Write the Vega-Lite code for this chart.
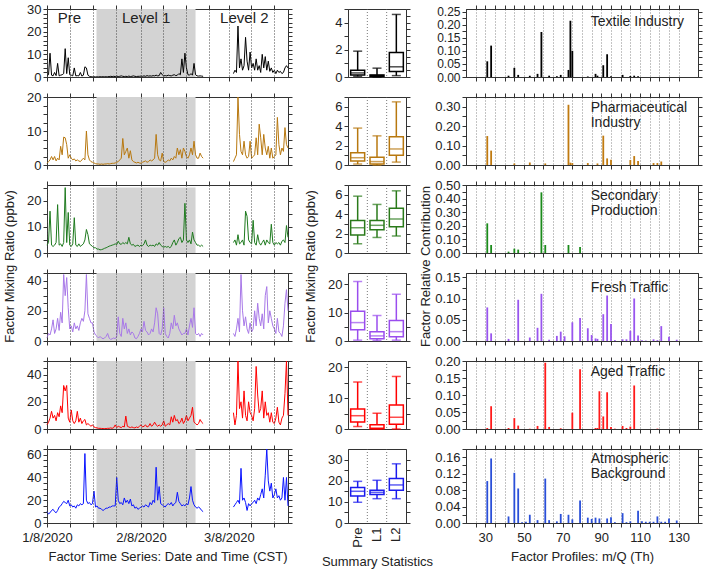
{
"$schema":"https://vega.github.io/schema/vega-lite/v6.json",
"padding":{"left":2,"top":2,"right":2,"bottom":2},
"columns":3,
"align":"each",
"bounds":"flush",
"spacing":{"row":20,"column":60},
"config":{
 "font":"Liberation Sans",
 "view":{"stroke":"#333","strokeWidth":1},
 "axis":{"labelFontSize":13,"labelColor":"#222","titleFontSize":13,"titleFontWeight":"normal","titleColor":"#222","domainColor":"#333","tickColor":"#333","tickSize":4,"grid":false,"labelPadding":2,"labelOverlap":false},
 "axisX":{"labelFlush":false},
 "line":{"strokeWidth":1},
 "text":{"fontSize":14,"color":"#222"}
},
"datasets":{
"lv":[{"t":"2020-01-24T08:00","t2":"2020-02-26T00:00"}],
"per":[{"t":"2020-01-15T10:00","lab":"Pre"},{"t":"2020-02-09T17:00","lab":"Level 1"},{"t":"2020-03-13T02:00","lab":"Level 2"}],
"ts":[
{"t":"2020-01-08T00:00","s":1,"tx":0.5,"ph":0.5,"sp":3,"ft":2,"at":3,"bg":10},
{"t":"2020-01-08T12:00","s":1,"tx":1,"ph":1,"sp":4,"ft":5,"at":5,"bg":8},
{"t":"2020-01-09T00:00","s":1,"tx":10.5,"ph":1.5,"sp":16,"ft":4,"at":8,"bg":9},
{"t":"2020-01-09T12:00","s":1,"tx":0.8,"ph":2.5,"sp":3,"ft":8,"at":13,"bg":11},
{"t":"2020-01-10T00:00","s":1,"tx":0.5,"ph":1.5,"sp":2.5,"ft":14,"at":8,"bg":12},
{"t":"2020-01-10T12:00","s":1,"tx":2,"ph":2.5,"sp":3,"ft":5,"at":10,"bg":10},
{"t":"2020-01-11T00:00","s":1,"tx":0.6,"ph":1.2,"sp":4,"ft":8,"at":6,"bg":9},
{"t":"2020-01-11T12:00","s":1,"tx":6,"ph":2,"sp":18.5,"ft":15,"at":12,"bg":11},
{"t":"2020-01-12T00:00","s":1,"tx":0.5,"ph":1.5,"sp":3,"ft":7,"at":9,"bg":14},
{"t":"2020-01-12T12:00","s":1,"tx":0.8,"ph":5.5,"sp":3.5,"ft":19,"at":17,"bg":15},
{"t":"2020-01-13T00:00","s":1,"tx":1,"ph":3,"sp":2.5,"ft":12,"at":12,"bg":17},
{"t":"2020-01-13T12:00","s":1,"tx":1.5,"ph":8.2,"sp":4,"ft":44,"at":32,"bg":19},
{"t":"2020-01-14T00:00","s":1,"tx":12.5,"ph":8,"sp":25,"ft":30,"at":28,"bg":18},
{"t":"2020-01-14T12:00","s":1,"tx":1.5,"ph":6,"sp":4,"ft":42,"at":32,"bg":17},
{"t":"2020-01-15T00:00","s":1,"tx":8.5,"ph":2,"sp":15.5,"ft":22,"at":8,"bg":20},
{"t":"2020-01-15T12:00","s":1,"tx":1,"ph":3,"sp":3,"ft":8,"at":5,"bg":15},
{"t":"2020-01-16T00:00","s":1,"tx":0.8,"ph":2,"sp":2.5,"ft":10,"at":14,"bg":16},
{"t":"2020-01-16T12:00","s":1,"tx":0.5,"ph":1.5,"sp":3.5,"ft":6,"at":6,"bg":14},
{"t":"2020-01-17T00:00","s":1,"tx":4,"ph":1.8,"sp":13.5,"ft":12,"at":4,"bg":15},
{"t":"2020-01-17T12:00","s":1,"tx":0.5,"ph":1.2,"sp":3,"ft":8,"at":6,"bg":13},
{"t":"2020-01-18T00:00","s":1,"tx":0.6,"ph":1.5,"sp":2.5,"ft":10,"at":13,"bg":16},
{"t":"2020-01-18T12:00","s":1,"tx":0.5,"ph":1.2,"sp":3.5,"ft":7,"at":5,"bg":15},
{"t":"2020-01-19T00:00","s":1,"tx":2,"ph":1,"sp":2.5,"ft":12,"at":8,"bg":17},
{"t":"2020-01-19T12:00","s":1,"tx":0.4,"ph":1.5,"sp":3,"ft":15,"at":4,"bg":16},
{"t":"2020-01-20T00:00","s":1,"tx":0.8,"ph":2,"sp":3.5,"ft":13,"at":6,"bg":17},
{"t":"2020-01-20T12:00","s":1,"tx":4.5,"ph":1.5,"sp":5,"ft":20,"at":7,"bg":61},
{"t":"2020-01-21T00:00","s":1,"tx":4,"ph":10,"sp":9,"ft":44,"at":3,"bg":20},
{"t":"2020-01-21T12:00","s":1,"tx":0.8,"ph":3,"sp":7,"ft":18,"at":4,"bg":17},
{"t":"2020-01-22T00:00","s":1,"tx":0.3,"ph":1.5,"sp":3.5,"ft":15,"at":3,"bg":18},
{"t":"2020-01-22T12:00","s":1,"tx":0.1,"ph":1,"sp":3,"ft":12,"at":2,"bg":16},
{"t":"2020-01-23T00:00","s":1,"tx":0.1,"ph":0.8,"sp":2.5,"ft":12,"at":3,"bg":17},
{"t":"2020-01-23T12:00","s":1,"tx":0.1,"ph":0.6,"sp":2,"ft":6,"at":1.5,"bg":28},
{"t":"2020-01-24T00:00","s":1,"tx":0.05,"ph":0.4,"sp":2,"ft":4,"at":1,"bg":14},
{"t":"2020-01-24T12:00","s":1,"tx":0.05,"ph":0.3,"sp":1.5,"ft":3,"at":0.8,"bg":15},
{"t":"2020-01-25T00:00","s":1,"tx":0.05,"ph":0.3,"sp":1.5,"ft":2,"at":0.5,"bg":13},
{"t":"2020-01-25T12:00","s":1,"tx":0.1,"ph":0.2,"sp":1.2,"ft":3,"at":0.5,"bg":13},
{"t":"2020-01-26T00:00","s":1,"tx":0.1,"ph":0.3,"sp":1.3,"ft":2,"at":0.4,"bg":12},
{"t":"2020-01-26T12:00","s":1,"tx":0.1,"ph":0.2,"sp":1.5,"ft":1.5,"at":0.3,"bg":11},
{"t":"2020-01-27T00:00","s":1,"tx":0.1,"ph":0.3,"sp":1.8,"ft":2,"at":0.3,"bg":12},
{"t":"2020-01-27T12:00","s":1,"tx":0.1,"ph":0.3,"sp":2,"ft":3,"at":0.3,"bg":13},
{"t":"2020-01-28T00:00","s":1,"tx":0.1,"ph":0.4,"sp":2.3,"ft":5,"at":0.5,"bg":13},
{"t":"2020-01-28T12:00","s":1,"tx":0.2,"ph":0.3,"sp":2.6,"ft":2,"at":0.5,"bg":14},
{"t":"2020-01-29T00:00","s":1,"tx":0.3,"ph":0.4,"sp":2.8,"ft":1,"at":0.8,"bg":14},
{"t":"2020-01-29T12:00","s":1,"tx":0.2,"ph":0.5,"sp":3,"ft":1.5,"at":0.5,"bg":15},
{"t":"2020-01-30T00:00","s":1,"tx":0.3,"ph":0.5,"sp":3.2,"ft":2,"at":1,"bg":15},
{"t":"2020-01-30T12:00","s":1,"tx":0.2,"ph":0.6,"sp":3.5,"ft":1.5,"at":3,"bg":15},
{"t":"2020-01-31T00:00","s":1,"tx":0.4,"ph":0.8,"sp":3.2,"ft":3,"at":1,"bg":40},
{"t":"2020-01-31T12:00","s":1,"tx":0.2,"ph":1,"sp":4.5,"ft":16,"at":2,"bg":20},
{"t":"2020-02-01T00:00","s":1,"tx":0.3,"ph":1.5,"sp":3.5,"ft":5,"at":1.5,"bg":17},
{"t":"2020-02-01T12:00","s":1,"tx":0.5,"ph":2,"sp":3.3,"ft":3,"at":1,"bg":18},
{"t":"2020-02-02T00:00","s":1,"tx":0.3,"ph":7.8,"sp":4,"ft":15,"at":2,"bg":16},
{"t":"2020-02-02T12:00","s":1,"tx":0.2,"ph":3,"sp":3.5,"ft":8,"at":1.5,"bg":22},
{"t":"2020-02-03T00:00","s":1,"tx":0.3,"ph":4,"sp":4,"ft":12,"at":9.5,"bg":18},
{"t":"2020-02-03T12:00","s":1,"tx":0.2,"ph":5,"sp":3.5,"ft":5,"at":2,"bg":20},
{"t":"2020-02-04T00:00","s":1,"tx":0.4,"ph":2,"sp":6,"ft":8,"at":1.5,"bg":17},
{"t":"2020-02-04T12:00","s":1,"tx":0.2,"ph":4.2,"sp":3.5,"ft":4,"at":1,"bg":21},
{"t":"2020-02-05T00:00","s":1,"tx":0.3,"ph":1.5,"sp":3,"ft":6,"at":1.5,"bg":15},
{"t":"2020-02-05T12:00","s":1,"tx":0.5,"ph":1,"sp":3.3,"ft":5,"at":1,"bg":16},
{"t":"2020-02-06T00:00","s":1,"tx":0.3,"ph":0.8,"sp":2.5,"ft":2,"at":0.8,"bg":13},
{"t":"2020-02-06T12:00","s":1,"tx":0.2,"ph":0.6,"sp":2.8,"ft":1.5,"at":1.5,"bg":14},
{"t":"2020-02-07T00:00","s":1,"tx":0.3,"ph":0.8,"sp":3,"ft":3,"at":1,"bg":12},
{"t":"2020-02-07T12:00","s":1,"tx":0.3,"ph":0.6,"sp":2.5,"ft":5,"at":2,"bg":13},
{"t":"2020-02-08T00:00","s":1,"tx":0.4,"ph":0.5,"sp":3,"ft":8,"at":3,"bg":14},
{"t":"2020-02-08T12:00","s":1,"tx":0.3,"ph":0.8,"sp":2.8,"ft":6,"at":1.5,"bg":15},
{"t":"2020-02-09T00:00","s":1,"tx":0.5,"ph":1,"sp":3.5,"ft":13,"at":2,"bg":14},
{"t":"2020-02-09T12:00","s":1,"tx":0.3,"ph":1.2,"sp":5,"ft":7,"at":3,"bg":16},
{"t":"2020-02-10T00:00","s":1,"tx":0.6,"ph":0.8,"sp":3,"ft":6,"at":1.5,"bg":15},
{"t":"2020-02-10T12:00","s":1,"tx":0.4,"ph":1,"sp":2.5,"ft":4,"at":2,"bg":14},
{"t":"2020-02-11T00:00","s":1,"tx":0.5,"ph":1.5,"sp":3,"ft":5,"at":4,"bg":18},
{"t":"2020-02-11T12:00","s":1,"tx":0.4,"ph":1.2,"sp":2.8,"ft":8,"at":2,"bg":16},
{"t":"2020-02-12T00:00","s":1,"tx":0.6,"ph":1.5,"sp":3,"ft":6,"at":3,"bg":20},
{"t":"2020-02-12T12:00","s":1,"tx":0.5,"ph":2,"sp":2.5,"ft":12,"at":5,"bg":18},
{"t":"2020-02-13T00:00","s":1,"tx":0.8,"ph":9,"sp":3.5,"ft":22,"at":3,"bg":49},
{"t":"2020-02-13T12:00","s":1,"tx":0.5,"ph":3,"sp":3,"ft":18,"at":2,"bg":20},
{"t":"2020-02-14T00:00","s":1,"tx":0.6,"ph":1.5,"sp":4,"ft":5,"at":3,"bg":32},
{"t":"2020-02-14T12:00","s":1,"tx":2,"ph":1.2,"sp":3,"ft":4,"at":2,"bg":17},
{"t":"2020-02-15T00:00","s":1,"tx":1,"ph":3.5,"sp":2.5,"ft":8,"at":3,"bg":16},
{"t":"2020-02-15T12:00","s":1,"tx":0.5,"ph":1,"sp":2.2,"ft":22,"at":6,"bg":15},
{"t":"2020-02-16T00:00","s":1,"tx":0.6,"ph":0.8,"sp":2.5,"ft":5,"at":2,"bg":14},
{"t":"2020-02-16T12:00","s":1,"tx":0.5,"ph":1,"sp":2.2,"ft":3,"at":3,"bg":16},
{"t":"2020-02-17T00:00","s":1,"tx":0.8,"ph":1.5,"sp":2.5,"ft":2,"at":4,"bg":17},
{"t":"2020-02-17T12:00","s":1,"tx":0.6,"ph":1.2,"sp":2,"ft":5,"at":3,"bg":16},
{"t":"2020-02-18T00:00","s":1,"tx":0.5,"ph":2,"sp":2.5,"ft":12,"at":9,"bg":18},
{"t":"2020-02-18T12:00","s":1,"tx":0.8,"ph":1.5,"sp":4,"ft":8,"at":5,"bg":15},
{"t":"2020-02-19T00:00","s":1,"tx":1,"ph":2.5,"sp":5,"ft":17,"at":10,"bg":17},
{"t":"2020-02-19T12:00","s":1,"tx":0.6,"ph":2,"sp":3,"ft":10,"at":6,"bg":18},
{"t":"2020-02-20T00:00","s":1,"tx":0.8,"ph":5,"sp":4,"ft":12,"at":7,"bg":27},
{"t":"2020-02-20T12:00","s":1,"tx":1.5,"ph":3,"sp":5.5,"ft":8,"at":4,"bg":19},
{"t":"2020-02-21T00:00","s":1,"tx":1,"ph":4.5,"sp":6,"ft":6,"at":5,"bg":17},
{"t":"2020-02-21T12:00","s":1,"tx":8,"ph":2,"sp":4,"ft":4,"at":8,"bg":15},
{"t":"2020-02-22T00:00","s":1,"tx":2,"ph":5,"sp":5,"ft":5,"at":4,"bg":16},
{"t":"2020-02-22T12:00","s":1,"tx":10.5,"ph":4,"sp":19,"ft":5,"at":6,"bg":15},
{"t":"2020-02-23T00:00","s":1,"tx":4,"ph":2.5,"sp":5,"ft":8,"at":10,"bg":17},
{"t":"2020-02-23T12:00","s":1,"tx":1,"ph":2,"sp":4,"ft":4,"at":6,"bg":16},
{"t":"2020-02-24T00:00","s":1,"tx":0.8,"ph":3,"sp":5,"ft":10,"at":8,"bg":22},
{"t":"2020-02-24T12:00","s":1,"tx":1.5,"ph":5,"sp":3.5,"ft":15,"at":10,"bg":32},
{"t":"2020-02-25T00:00","s":1,"tx":0.8,"ph":3,"sp":8,"ft":9,"at":16,"bg":20},
{"t":"2020-02-25T12:00","s":1,"tx":6,"ph":7,"sp":5,"ft":22,"at":5,"bg":16},
{"t":"2020-02-26T00:00","s":1,"tx":1,"ph":3,"sp":4,"ft":5,"at":4,"bg":14},
{"t":"2020-02-26T12:00","s":1,"tx":0.5,"ph":2,"sp":3,"ft":4,"at":3,"bg":13},
{"t":"2020-02-27T00:00","s":1,"tx":0.4,"ph":2,"sp":3,"ft":5,"at":4,"bg":14},
{"t":"2020-02-27T12:00","s":1,"tx":0.5,"ph":3.5,"sp":2.5,"ft":3,"at":7,"bg":13},
{"t":"2020-02-28T00:00","s":1,"tx":0.4,"ph":2.5,"sp":3,"ft":5,"at":5,"bg":11},
{"t":"2020-02-28T12:00","s":1,"tx":0.3,"ph":2,"sp":2.5,"ft":4,"at":4,"bg":10},
{"t":"2020-03-09T12:00","s":2,"tx":1.5,"ph":1,"sp":4,"ft":5,"at":12,"bg":14},
{"t":"2020-03-10T00:00","s":2,"tx":3,"ph":2,"sp":5,"ft":3,"at":3,"bg":16},
{"t":"2020-03-10T12:00","s":2,"tx":2,"ph":3,"sp":3,"ft":8,"at":10,"bg":18},
{"t":"2020-03-11T00:00","s":2,"tx":22.5,"ph":20,"sp":7,"ft":15,"at":50,"bg":20},
{"t":"2020-03-11T12:00","s":2,"tx":4,"ph":9,"sp":3.5,"ft":6,"at":15,"bg":17},
{"t":"2020-03-12T00:00","s":2,"tx":8,"ph":4,"sp":4,"ft":44,"at":20,"bg":48},
{"t":"2020-03-12T12:00","s":2,"tx":3,"ph":3,"sp":5,"ft":20,"at":8,"bg":20},
{"t":"2020-03-13T00:00","s":2,"tx":5,"ph":7,"sp":3,"ft":10,"at":28,"bg":22},
{"t":"2020-03-13T12:00","s":2,"tx":17.5,"ph":3,"sp":16,"ft":16,"at":10,"bg":18},
{"t":"2020-03-14T00:00","s":2,"tx":7,"ph":2,"sp":14,"ft":8,"at":6,"bg":11},
{"t":"2020-03-14T12:00","s":2,"tx":3,"ph":2.5,"sp":5,"ft":5,"at":20,"bg":17},
{"t":"2020-03-15T00:00","s":2,"tx":11,"ph":7,"sp":4,"ft":12,"at":12,"bg":15},
{"t":"2020-03-15T12:00","s":2,"tx":4,"ph":2,"sp":3.5,"ft":6,"at":10,"bg":17},
{"t":"2020-03-16T00:00","s":2,"tx":6,"ph":2.5,"sp":12.5,"ft":8,"at":6,"bg":18},
{"t":"2020-03-16T12:00","s":2,"tx":3,"ph":3,"sp":4,"ft":20,"at":15,"bg":20},
{"t":"2020-03-17T00:00","s":2,"tx":8,"ph":8,"sp":3,"ft":10,"at":46,"bg":17},
{"t":"2020-03-17T12:00","s":2,"tx":3,"ph":3,"sp":7,"ft":25,"at":25,"bg":22},
{"t":"2020-03-18T00:00","s":2,"tx":5,"ph":12,"sp":4,"ft":15,"at":12,"bg":20},
{"t":"2020-03-18T12:00","s":2,"tx":2,"ph":8,"sp":3,"ft":10,"at":15,"bg":25},
{"t":"2020-03-19T00:00","s":2,"tx":10,"ph":3,"sp":4,"ft":18,"at":28,"bg":30},
{"t":"2020-03-19T12:00","s":2,"tx":4,"ph":9,"sp":5,"ft":8,"at":8,"bg":22},
{"t":"2020-03-20T00:00","s":2,"tx":9,"ph":5,"sp":3,"ft":30,"at":20,"bg":42},
{"t":"2020-03-20T12:00","s":2,"tx":3,"ph":3,"sp":5,"ft":36,"at":10,"bg":65},
{"t":"2020-03-21T00:00","s":2,"tx":7,"ph":5.5,"sp":4,"ft":12,"at":12,"bg":37},
{"t":"2020-03-21T12:00","s":2,"tx":2.5,"ph":2,"sp":3.5,"ft":20,"at":5,"bg":28},
{"t":"2020-03-22T00:00","s":2,"tx":4,"ph":5,"sp":11,"ft":15,"at":12,"bg":35},
{"t":"2020-03-22T12:00","s":2,"tx":2,"ph":2,"sp":4,"ft":10,"at":5,"bg":22},
{"t":"2020-03-23T00:00","s":2,"tx":3,"ph":2.5,"sp":3,"ft":8,"at":4,"bg":25},
{"t":"2020-03-23T12:00","s":2,"tx":1.5,"ph":3,"sp":4,"ft":5,"at":8,"bg":30},
{"t":"2020-03-24T00:00","s":2,"tx":3,"ph":14,"sp":3.5,"ft":15,"at":16,"bg":22},
{"t":"2020-03-24T12:00","s":2,"tx":2,"ph":6,"sp":4,"ft":6,"at":5,"bg":24},
{"t":"2020-03-25T00:00","s":2,"tx":2.5,"ph":3,"sp":3,"ft":5,"at":3,"bg":20},
{"t":"2020-03-25T12:00","s":2,"tx":1.5,"ph":5,"sp":4.5,"ft":3,"at":8,"bg":22},
{"t":"2020-03-26T00:00","s":2,"tx":2,"ph":4,"sp":5,"ft":10,"at":10,"bg":40},
{"t":"2020-03-26T12:00","s":2,"tx":4,"ph":11,"sp":4,"ft":25,"at":26,"bg":20},
{"t":"2020-03-27T00:00","s":2,"tx":5,"ph":6,"sp":10.5,"ft":34,"at":50,"bg":40},
{"t":"2020-03-27T12:00","s":2,"tx":4,"ph":5,"sp":6,"ft":20,"at":10,"bg":15}
],
"box":[
{"f":"tx","g":"Pre","lo":0.05,"q1":0.15,"md":0.3,"q3":0.5,"hi":1.9},
{"f":"tx","g":"L1","lo":0,"q1":0.05,"md":0.1,"q3":0.15,"hi":0.65},
{"f":"tx","g":"L2","lo":0.1,"q1":0.4,"md":0.75,"q3":1.8,"hi":4.6},
{"f":"ph","g":"Pre","lo":0.1,"q1":0.4,"md":0.75,"q3":1.25,"hi":3.8},
{"f":"ph","g":"L1","lo":0,"q1":0.1,"md":0.35,"q3":0.8,"hi":3.0},
{"f":"ph","g":"L2","lo":0.3,"q1":1.0,"md":1.65,"q3":2.9,"hi":6.5},
{"f":"sp","g":"Pre","lo":0.95,"q1":1.85,"md":2.6,"q3":3.35,"hi":5.85},
{"f":"sp","g":"L1","lo":1.6,"q1":2.4,"md":2.85,"q3":3.35,"hi":5.0},
{"f":"sp","g":"L2","lo":1.75,"q1":2.7,"md":3.5,"q3":4.6,"hi":6.4},
{"f":"ft","g":"Pre","lo":0.3,"q1":4,"md":6.5,"q3":10.5,"hi":21},
{"f":"ft","g":"L1","lo":0.2,"q1":0.8,"md":1.8,"q3":3.3,"hi":9},
{"f":"ft","g":"L2","lo":0.3,"q1":1.5,"md":3.3,"q3":7.2,"hi":16.5},
{"f":"at","g":"Pre","lo":0.8,"q1":2.3,"md":4.3,"q3":6.5,"hi":15.2},
{"f":"at","g":"L1","lo":0,"q1":0.1,"md":0.3,"q3":1.4,"hi":5.1},
{"f":"at","g":"L2","lo":0,"q1":1.5,"md":3.8,"q3":7.8,"hi":17},
{"f":"bg","g":"Pre","lo":9.8,"q1":12.8,"md":15,"q3":16.8,"hi":19.7},
{"f":"bg","g":"L1","lo":11.5,"q1":13.5,"md":14.5,"q3":15.5,"hi":20.2},
{"f":"bg","g":"L2","lo":11.5,"q1":15.5,"md":18,"q3":21,"hi":28}
],
"prof":[
{"f":"tx","mz":31,"v":0.06},{"f":"tx","mz":33,"v":0.12},{"f":"tx","mz":42,"v":0.005},{"f":"tx","mz":45,"v":0.035},{"f":"tx","mz":47,"v":0.008},{"f":"tx","mz":53,"v":0.005},{"f":"tx","mz":57,"v":0.012},{"f":"tx","mz":59,"v":0.172},{"f":"tx","mz":63,"v":0.005},{"f":"tx","mz":67,"v":0.003},{"f":"tx","mz":69,"v":0.008},{"f":"tx","mz":73,"v":0.027},{"f":"tx","mz":74,"v":0.215},{"f":"tx","mz":75,"v":0.10},{"f":"tx","mz":83,"v":0.002},{"f":"tx","mz":87,"v":0.012},{"f":"tx","mz":88,"v":0.005},{"f":"tx","mz":91,"v":0.045},{"f":"tx","mz":93,"v":0.087},{"f":"tx","mz":95,"v":0.003},{"f":"tx","mz":101,"v":0.008},{"f":"tx","mz":105,"v":0.004},{"f":"tx","mz":107,"v":0.005},{"f":"tx","mz":109,"v":0.003},
{"f":"ph","mz":31,"v":0.149},{"f":"ph","mz":33,"v":0.074},{"f":"ph","mz":45,"v":0.008},{"f":"ph","mz":53,"v":0.013},{"f":"ph","mz":61,"v":0.008},{"f":"ph","mz":73,"v":0.31},{"f":"ph","mz":74,"v":0.012},{"f":"ph","mz":75,"v":0.01},{"f":"ph","mz":83,"v":0.01},{"f":"ph","mz":88,"v":0.008},{"f":"ph","mz":91,"v":0.151},{"f":"ph","mz":93,"v":0.034},{"f":"ph","mz":95,"v":0.027},{"f":"ph","mz":105,"v":0.026},{"f":"ph","mz":107,"v":0.046},{"f":"ph","mz":109,"v":0.02},{"f":"ph","mz":117,"v":0.01},{"f":"ph","mz":119,"v":0.01},{"f":"ph","mz":121,"v":0.018},
{"f":"sp","mz":31,"v":0.218},{"f":"sp","mz":33,"v":0.059},{"f":"sp","mz":42,"v":0.01},{"f":"sp","mz":45,"v":0.032},{"f":"sp","mz":47,"v":0.025},{"f":"sp","mz":53,"v":0.005},{"f":"sp","mz":59,"v":0.446},{"f":"sp","mz":61,"v":0.059},{"f":"sp","mz":73,"v":0.059},{"f":"sp","mz":79,"v":0.044},
{"f":"ft","mz":31,"v":0.079},{"f":"ft","mz":33,"v":0.018},{"f":"ft","mz":42,"v":0.005},{"f":"ft","mz":47,"v":0.097},{"f":"ft","mz":53,"v":0.008},{"f":"ft","mz":57,"v":0.031},{"f":"ft","mz":59,"v":0.111},{"f":"ft","mz":63,"v":0.003},{"f":"ft","mz":67,"v":0.012},{"f":"ft","mz":69,"v":0.022},{"f":"ft","mz":71,"v":0.011},{"f":"ft","mz":75,"v":0.044},{"f":"ft","mz":79,"v":0.054},{"f":"ft","mz":83,"v":0.03},{"f":"ft","mz":85,"v":0.014},{"f":"ft","mz":87,"v":0.006},{"f":"ft","mz":88,"v":0.005},{"f":"ft","mz":91,"v":0.063},{"f":"ft","mz":93,"v":0.107},{"f":"ft","mz":95,"v":0.04},{"f":"ft","mz":97,"v":0.002},{"f":"ft","mz":101,"v":0.004},{"f":"ft","mz":103,"v":0.004},{"f":"ft","mz":105,"v":0.024},{"f":"ft","mz":107,"v":0.10},{"f":"ft","mz":109,"v":0.013},{"f":"ft","mz":111,"v":0.002},{"f":"ft","mz":113,"v":0.001},{"f":"ft","mz":117,"v":0.004},{"f":"ft","mz":119,"v":0.002},{"f":"ft","mz":121,"v":0.035},{"f":"ft","mz":125,"v":0.01},{"f":"ft","mz":129,"v":0.003},
{"f":"at","mz":31,"v":0.003},{"f":"at","mz":33,"v":0.067},{"f":"at","mz":42,"v":0.003},{"f":"at","mz":45,"v":0.032},{"f":"at","mz":47,"v":0.01},{"f":"at","mz":53,"v":0.001},{"f":"at","mz":57,"v":0.009},{"f":"at","mz":61,"v":0.195},{"f":"at","mz":63,"v":0.006},{"f":"at","mz":69,"v":0.002},{"f":"at","mz":75,"v":0.048},{"f":"at","mz":79,"v":0.176},{"f":"at","mz":87,"v":0.003},{"f":"at","mz":88,"v":0.003},{"f":"at","mz":89,"v":0.111},{"f":"at","mz":91,"v":0.037},{"f":"at","mz":93,"v":0.108},{"f":"at","mz":95,"v":0.006},{"f":"at","mz":97,"v":0.001},{"f":"at","mz":101,"v":0.009},{"f":"at","mz":103,"v":0.003},{"f":"at","mz":105,"v":0.007},{"f":"at","mz":107,"v":0.128},{"f":"at","mz":119,"v":0.001},
{"f":"bg","mz":31,"v":0.102},{"f":"bg","mz":33,"v":0.157},{"f":"bg","mz":42,"v":0.016},{"f":"bg","mz":45,"v":0.122},{"f":"bg","mz":47,"v":0.084},{"f":"bg","mz":49,"v":0.002},{"f":"bg","mz":51,"v":0.003},{"f":"bg","mz":53,"v":0.02},{"f":"bg","mz":57,"v":0.007},{"f":"bg","mz":61,"v":0.108},{"f":"bg","mz":63,"v":0.007},{"f":"bg","mz":67,"v":0.004},{"f":"bg","mz":69,"v":0.022},{"f":"bg","mz":73,"v":0.02},{"f":"bg","mz":75,"v":0.009},{"f":"bg","mz":79,"v":0.055},{"f":"bg","mz":83,"v":0.013},{"f":"bg","mz":85,"v":0.01},{"f":"bg","mz":87,"v":0.013},{"f":"bg","mz":89,"v":0.011},{"f":"bg","mz":93,"v":0.011},{"f":"bg","mz":95,"v":0.014},{"f":"bg","mz":97,"v":0.002},{"f":"bg","mz":101,"v":0.024},{"f":"bg","mz":103,"v":0.002},{"f":"bg","mz":105,"v":0.004},{"f":"bg","mz":109,"v":0.03},{"f":"bg","mz":111,"v":0.004},{"f":"bg","mz":113,"v":0.003},{"f":"bg","mz":115,"v":0.003},{"f":"bg","mz":117,"v":0.003},{"f":"bg","mz":119,"v":0.016},{"f":"bg","mz":121,"v":0.003},{"f":"bg","mz":123,"v":0.003},{"f":"bg","mz":125,"v":0.011},{"f":"bg","mz":129,"v":0.006}
]
},
"concat":[
{"width":241,"height":68,"data":{"name":"ts"},"resolve":{"axis":{"x":"independent","y":"independent"}},
 "layer":[
  {"data":{"name":"lv"},"mark":{"type":"rect","color":"#d3d3d3"},"encoding":{
   "x":{"field":"t","type":"temporal","scale":{"domain":[{"year":2020,"month":1,"date":8},{"year":2020,"month":3,"date":27,"hours":12}]},"axis":{"orient":"top","title":null,"labels":false,"values":[{"year":2020,"month":1,"date":8},{"year":2020,"month":1,"date":15,"hours":12},{"year":2020,"month":1,"date":23,"hours":3},{"year":2020,"month":1,"date":30,"hours":15},{"year":2020,"month":2,"date":8},{"year":2020,"month":2,"date":15,"hours":10},{"year":2020,"month":2,"date":22,"hours":20},{"year":2020,"month":3,"date":1,"hours":12},{"year":2020,"month":3,"date":8},{"year":2020,"month":3,"date":15,"hours":10},{"year":2020,"month":3,"date":22,"hours":20}]}},
   "x2":{"field":"t2"},
   "y":{"datum":0,"type":"quantitative","axis":{"orient":"right","title":null,"labels":false,"values":[0,2,4,6,8,10,12,14,16,18,20,22,24,26,28,30]}},"y2":{"datum":30}}},
  {"mark":{"type":"line","color":"#000000"},"encoding":{
   "x":{"field":"t","type":"temporal","axis":{"title":null,"labels":false,"grid":true,"gridDash":[1,2],"gridColor":"#444","zindex":1,"values":[{"year":2020,"month":1,"date":8},{"year":2020,"month":1,"date":15,"hours":12},{"year":2020,"month":1,"date":23,"hours":3},{"year":2020,"month":1,"date":30,"hours":15},{"year":2020,"month":2,"date":8},{"year":2020,"month":2,"date":15,"hours":10},{"year":2020,"month":2,"date":22,"hours":20},{"year":2020,"month":3,"date":1,"hours":12},{"year":2020,"month":3,"date":8},{"year":2020,"month":3,"date":15,"hours":10},{"year":2020,"month":3,"date":22,"hours":20}]}},
   "y":{"field":"tx","type":"quantitative","scale":{"domain":[0,30]},"axis":{"title":null,"labelExpr":"datum.value % 10 == 0 ? datum.label : ''","values":[0,2,4,6,8,10,12,14,16,18,20,22,24,26,28,30]}},"detail":{"field":"s","type":"nominal"}}},
  {"data":{"name":"per"},"mark":{"type":"text","fontSize":15},"encoding":{"x":{"field":"t","type":"temporal","axis":null},"y":{"datum":26,"type":"quantitative","axis":null},"text":{"field":"lab","type":"nominal"}}}
 ]},
{"width":58,"height":68,"data":{"name":"box"},"transform":[{"filter":"datum.f=='tx'"}],"resolve":{"axis":{"y":"independent"}},
 "encoding":{"x":{"field":"g","type":"nominal","sort":["Pre","L1","L2"],"scale":{"paddingInner":0,"paddingOuter":0},"axis":{"title":null,"labels":false,"ticks":false}}},
 "layer":[
  {"transform":[{"filter":"datum.g!='Pre'"}],"mark":{"type":"rule","strokeDash":[1,2],"color":"#555","strokeWidth":0.8},"encoding":{"x":{"field":"g","type":"nominal","sort":["Pre","L1","L2"],"bandPosition":0}}},
  {"mark":{"type":"rule","color":"#000000","strokeWidth":1.5},"encoding":{"y":{"field":"lo","type":"quantitative","scale":{"domain":[0,5]},"axis":{"title":null,"format":"d","labelExpr":"datum.value % 2 == 0 ? datum.label : ''","values":[0,0.5,1,1.5,2,2.5,3,3.5,4,4.5,5]}},"y2":{"field":"hi"}}},
  {"mark":{"type":"bar","fill":"white","stroke":"#000000","strokeWidth":1.5,"size":14},"encoding":{"y":{"field":"q1","type":"quantitative","axis":{"orient":"right","title":null,"labels":false,"values":[0,0.5,1,1.5,2,2.5,3,3.5,4,4.5,5]}},"y2":{"field":"q3"}}},
  {"mark":{"type":"tick","color":"#000000","size":14,"thickness":1.5},"encoding":{"y":{"field":"md","type":"quantitative","axis":null}}},
  {"mark":{"type":"tick","color":"#000000","size":9,"thickness":1.5},"encoding":{"y":{"field":"lo","type":"quantitative","axis":null}}},
  {"mark":{"type":"tick","color":"#000000","size":9,"thickness":1.5},"encoding":{"y":{"field":"hi","type":"quantitative","axis":null}}}
 ]},
{"width":232,"height":68,"resolve":{"axis":{"x":"independent","y":"independent"}},
 "layer":[
  {"data":{"name":"prof"},"transform":[{"filter":"datum.f=='tx'"}],"mark":{"type":"bar","orient":"vertical","color":"#000000","size":1.8},
   "encoding":{"x":{"field":"mz","type":"quantitative","scale":{"domain":[25,130]},"axis":{"title":null,"labels":false,"grid":true,"gridDash":[1,2],"gridColor":"#888","values":[25,30,35,40,45,50,55,60,65,70,75,80,85,90,95,100,105,110,115,120,125,130]}},
    "y":{"field":"v","type":"quantitative","scale":{"domain":[0,0.25]},"axis":{"title":null,"format":".2f","labelFontSize":12,"labelExpr":"round(datum.value*1000) % 50 == 0 ? datum.label : ''","values":[0,0.025,0.05,0.075,0.1,0.125,0.15,0.175,0.2,0.225,0.25]}}}},
  {"data":{"values":[{"lab":"Textile Industry"}]},"mark":{"type":"text","align":"left","baseline":"top","lineBreak":"\n","lineHeight":15},"encoding":{
   "x":{"datum":84.5,"type":"quantitative","axis":{"orient":"top","title":null,"labels":false,"values":[25,30,35,40,45,50,55,60,65,70,75,80,85,90,95,100,105,110,115,120,125,130]}},
   "y":{"datum":0.236,"type":"quantitative","axis":{"orient":"right","title":null,"labels":false,"values":[0,0.025,0.05,0.075,0.1,0.125,0.15,0.175,0.2,0.225,0.25]}},"text":{"field":"lab","type":"nominal"}}}
 ]},

{"width":241,"height":68,"data":{"name":"ts"},"resolve":{"axis":{"x":"independent","y":"independent"}},
 "layer":[
  {"data":{"name":"lv"},"mark":{"type":"rect","color":"#d3d3d3"},"encoding":{
   "x":{"field":"t","type":"temporal","scale":{"domain":[{"year":2020,"month":1,"date":8},{"year":2020,"month":3,"date":27,"hours":12}]},"axis":{"orient":"top","title":null,"labels":false,"values":[{"year":2020,"month":1,"date":8},{"year":2020,"month":1,"date":15,"hours":12},{"year":2020,"month":1,"date":23,"hours":3},{"year":2020,"month":1,"date":30,"hours":15},{"year":2020,"month":2,"date":8},{"year":2020,"month":2,"date":15,"hours":10},{"year":2020,"month":2,"date":22,"hours":20},{"year":2020,"month":3,"date":1,"hours":12},{"year":2020,"month":3,"date":8},{"year":2020,"month":3,"date":15,"hours":10},{"year":2020,"month":3,"date":22,"hours":20}]}},
   "x2":{"field":"t2"},
   "y":{"datum":0,"type":"quantitative","axis":{"orient":"right","title":null,"labels":false,"values":[0,2.5,5,7.5,10,12.5,15,17.5,20]}},"y2":{"datum":20}}},
  {"mark":{"type":"line","color":"#b8780f"},"encoding":{
   "x":{"field":"t","type":"temporal","axis":{"title":null,"labels":false,"grid":true,"gridDash":[1,2],"gridColor":"#444","zindex":1,"values":[{"year":2020,"month":1,"date":8},{"year":2020,"month":1,"date":15,"hours":12},{"year":2020,"month":1,"date":23,"hours":3},{"year":2020,"month":1,"date":30,"hours":15},{"year":2020,"month":2,"date":8},{"year":2020,"month":2,"date":15,"hours":10},{"year":2020,"month":2,"date":22,"hours":20},{"year":2020,"month":3,"date":1,"hours":12},{"year":2020,"month":3,"date":8},{"year":2020,"month":3,"date":15,"hours":10},{"year":2020,"month":3,"date":22,"hours":20}]}},
   "y":{"field":"ph","type":"quantitative","scale":{"domain":[0,20]},"axis":{"title":null,"format":"d","labelExpr":"datum.value % 10 == 0 ? datum.label : ''","values":[0,2.5,5,7.5,10,12.5,15,17.5,20]}},"detail":{"field":"s","type":"nominal"}}}
 ]},
{"width":58,"height":68,"data":{"name":"box"},"transform":[{"filter":"datum.f=='ph'"}],"resolve":{"axis":{"y":"independent"}},
 "encoding":{"x":{"field":"g","type":"nominal","sort":["Pre","L1","L2"],"scale":{"paddingInner":0,"paddingOuter":0},"axis":{"title":null,"labels":false,"ticks":false}}},
 "layer":[
  {"transform":[{"filter":"datum.g!='Pre'"}],"mark":{"type":"rule","strokeDash":[1,2],"color":"#555","strokeWidth":0.8},"encoding":{"x":{"field":"g","type":"nominal","sort":["Pre","L1","L2"],"bandPosition":0}}},
  {"mark":{"type":"rule","color":"#b8780f","strokeWidth":1.5},"encoding":{"y":{"field":"lo","type":"quantitative","scale":{"domain":[0,7]},"axis":{"title":null,"labelExpr":"datum.value % 2 == 0 ? datum.label : ''","values":[0,1,2,3,4,5,6,7]}},"y2":{"field":"hi"}}},
  {"mark":{"type":"bar","fill":"white","stroke":"#b8780f","strokeWidth":1.5,"size":14},"encoding":{"y":{"field":"q1","type":"quantitative","axis":{"orient":"right","title":null,"labels":false,"values":[0,1,2,3,4,5,6,7]}},"y2":{"field":"q3"}}},
  {"mark":{"type":"tick","color":"#b8780f","size":14,"thickness":1.5},"encoding":{"y":{"field":"md","type":"quantitative","axis":null}}},
  {"mark":{"type":"tick","color":"#b8780f","size":9,"thickness":1.5},"encoding":{"y":{"field":"lo","type":"quantitative","axis":null}}},
  {"mark":{"type":"tick","color":"#b8780f","size":9,"thickness":1.5},"encoding":{"y":{"field":"hi","type":"quantitative","axis":null}}}
 ]},
{"width":232,"height":68,"resolve":{"axis":{"x":"independent","y":"independent"}},
 "layer":[
  {"data":{"name":"prof"},"transform":[{"filter":"datum.f=='ph'"}],"mark":{"type":"bar","orient":"vertical","color":"#c07a10","size":1.8},
   "encoding":{"x":{"field":"mz","type":"quantitative","scale":{"domain":[25,130]},"axis":{"title":null,"labels":false,"grid":true,"gridDash":[1,2],"gridColor":"#888","values":[25,30,35,40,45,50,55,60,65,70,75,80,85,90,95,100,105,110,115,120,125,130]}},
    "y":{"field":"v","type":"quantitative","scale":{"domain":[0,0.35]},"axis":{"title":null,"format":".2f","labelExpr":"round(datum.value*1000) % 100 == 0 ? datum.label : ''","values":[0,0.05,0.1,0.15,0.2,0.25,0.3,0.35]}}}},
  {"data":{"values":[{"lab":"Pharmaceutical\nIndustry"}]},"mark":{"type":"text","align":"left","baseline":"top","lineBreak":"\n","lineHeight":15},"encoding":{
   "x":{"datum":84.5,"type":"quantitative","axis":{"orient":"top","title":null,"labels":false,"values":[25,30,35,40,45,50,55,60,65,70,75,80,85,90,95,100,105,110,115,120,125,130]}},
   "y":{"datum":0.33,"type":"quantitative","axis":{"orient":"right","title":null,"labels":false,"values":[0,0.05,0.1,0.15,0.2,0.25,0.3,0.35]}},"text":{"field":"lab","type":"nominal"}}}
 ]},

{"width":241,"height":68,"data":{"name":"ts"},"resolve":{"axis":{"x":"independent","y":"independent"}},
 "layer":[
  {"data":{"name":"lv"},"mark":{"type":"rect","color":"#d3d3d3"},"encoding":{
   "x":{"field":"t","type":"temporal","scale":{"domain":[{"year":2020,"month":1,"date":8},{"year":2020,"month":3,"date":27,"hours":12}]},"axis":{"orient":"top","title":null,"labels":false,"values":[{"year":2020,"month":1,"date":8},{"year":2020,"month":1,"date":15,"hours":12},{"year":2020,"month":1,"date":23,"hours":3},{"year":2020,"month":1,"date":30,"hours":15},{"year":2020,"month":2,"date":8},{"year":2020,"month":2,"date":15,"hours":10},{"year":2020,"month":2,"date":22,"hours":20},{"year":2020,"month":3,"date":1,"hours":12},{"year":2020,"month":3,"date":8},{"year":2020,"month":3,"date":15,"hours":10},{"year":2020,"month":3,"date":22,"hours":20}]}},
   "x2":{"field":"t2"},
   "y":{"datum":0,"type":"quantitative","axis":{"orient":"right","title":null,"labels":false,"values":[0,5,10,15,20,25]}},"y2":{"datum":25}}},
  {"mark":{"type":"line","color":"#1e7a1e"},"encoding":{
   "x":{"field":"t","type":"temporal","axis":{"title":null,"labels":false,"grid":true,"gridDash":[1,2],"gridColor":"#444","zindex":1,"values":[{"year":2020,"month":1,"date":8},{"year":2020,"month":1,"date":15,"hours":12},{"year":2020,"month":1,"date":23,"hours":3},{"year":2020,"month":1,"date":30,"hours":15},{"year":2020,"month":2,"date":8},{"year":2020,"month":2,"date":15,"hours":10},{"year":2020,"month":2,"date":22,"hours":20},{"year":2020,"month":3,"date":1,"hours":12},{"year":2020,"month":3,"date":8},{"year":2020,"month":3,"date":15,"hours":10},{"year":2020,"month":3,"date":22,"hours":20}]}},
   "y":{"field":"sp","type":"quantitative","scale":{"domain":[0,25]},"axis":{"title":"Factor Mixing Ratio (ppbv)","titleX":-38,"titleY":81,"titleAngle":270,"titleAlign":"center","titleBaseline":"middle","labelExpr":"datum.value % 10 == 0 ? datum.label : ''","values":[0,5,10,15,20,25]}},"detail":{"field":"s","type":"nominal"}}}
 ]},
{"width":58,"height":68,"data":{"name":"box"},"transform":[{"filter":"datum.f=='sp'"}],"resolve":{"axis":{"y":"independent"}},
 "encoding":{"x":{"field":"g","type":"nominal","sort":["Pre","L1","L2"],"scale":{"paddingInner":0,"paddingOuter":0},"axis":{"title":null,"labels":false,"ticks":false}}},
 "layer":[
  {"transform":[{"filter":"datum.g!='Pre'"}],"mark":{"type":"rule","strokeDash":[1,2],"color":"#555","strokeWidth":0.8},"encoding":{"x":{"field":"g","type":"nominal","sort":["Pre","L1","L2"],"bandPosition":0}}},
  {"mark":{"type":"rule","color":"#2a7a1a","strokeWidth":1.5},"encoding":{"y":{"field":"lo","type":"quantitative","scale":{"domain":[0,7]},"axis":{"title":"Factor Mixing Ratio (ppbv)","titleX":-38,"titleY":81,"titleAngle":270,"titleAlign":"center","titleBaseline":"middle","labelExpr":"datum.value % 2 == 0 ? datum.label : ''","values":[0,1,2,3,4,5,6,7]}},"y2":{"field":"hi"}}},
  {"mark":{"type":"bar","fill":"white","stroke":"#2a7a1a","strokeWidth":1.5,"size":14},"encoding":{"y":{"field":"q1","type":"quantitative","axis":{"orient":"right","title":null,"labels":false,"values":[0,1,2,3,4,5,6,7]}},"y2":{"field":"q3"}}},
  {"mark":{"type":"tick","color":"#2a7a1a","size":14,"thickness":1.5},"encoding":{"y":{"field":"md","type":"quantitative","axis":null}}},
  {"mark":{"type":"tick","color":"#2a7a1a","size":9,"thickness":1.5},"encoding":{"y":{"field":"lo","type":"quantitative","axis":null}}},
  {"mark":{"type":"tick","color":"#2a7a1a","size":9,"thickness":1.5},"encoding":{"y":{"field":"hi","type":"quantitative","axis":null}}}
 ]},
{"width":232,"height":68,"resolve":{"axis":{"x":"independent","y":"independent"}},
 "layer":[
  {"data":{"name":"prof"},"transform":[{"filter":"datum.f=='sp'"}],"mark":{"type":"bar","orient":"vertical","color":"#1a8a1a","size":1.8},
   "encoding":{"x":{"field":"mz","type":"quantitative","scale":{"domain":[25,130]},"axis":{"title":null,"labels":false,"grid":true,"gridDash":[1,2],"gridColor":"#888","values":[25,30,35,40,45,50,55,60,65,70,75,80,85,90,95,100,105,110,115,120,125,130]}},
    "y":{"field":"v","type":"quantitative","scale":{"domain":[0,0.5]},"axis":{"title":"Factor Relative Contribution","titleX":-41,"titleY":81,"titleAngle":270,"titleAlign":"center","titleBaseline":"middle","format":".2f","labelExpr":"round(datum.value*1000) % 100 == 0 ? datum.label : ''","values":[0,0.05,0.1,0.15,0.2,0.25,0.3,0.35,0.4,0.45,0.5]}}}},
  {"data":{"values":[{"lab":"Secondary\nProduction"}]},"mark":{"type":"text","align":"left","baseline":"top","lineBreak":"\n","lineHeight":15},"encoding":{
   "x":{"datum":84.5,"type":"quantitative","axis":{"orient":"top","title":null,"labels":false,"values":[25,30,35,40,45,50,55,60,65,70,75,80,85,90,95,100,105,110,115,120,125,130]}},
   "y":{"datum":0.47,"type":"quantitative","axis":{"orient":"right","title":null,"labels":false,"values":[0,0.05,0.1,0.15,0.2,0.25,0.3,0.35,0.4,0.45,0.5]}},"text":{"field":"lab","type":"nominal"}}}
 ]},

{"width":241,"height":68,"data":{"name":"ts"},"resolve":{"axis":{"x":"independent","y":"independent"}},
 "layer":[
  {"data":{"name":"lv"},"mark":{"type":"rect","color":"#d3d3d3"},"encoding":{
   "x":{"field":"t","type":"temporal","scale":{"domain":[{"year":2020,"month":1,"date":8},{"year":2020,"month":3,"date":27,"hours":12}]},"axis":{"orient":"top","title":null,"labels":false,"values":[{"year":2020,"month":1,"date":8},{"year":2020,"month":1,"date":15,"hours":12},{"year":2020,"month":1,"date":23,"hours":3},{"year":2020,"month":1,"date":30,"hours":15},{"year":2020,"month":2,"date":8},{"year":2020,"month":2,"date":15,"hours":10},{"year":2020,"month":2,"date":22,"hours":20},{"year":2020,"month":3,"date":1,"hours":12},{"year":2020,"month":3,"date":8},{"year":2020,"month":3,"date":15,"hours":10},{"year":2020,"month":3,"date":22,"hours":20}]}},
   "x2":{"field":"t2"},
   "y":{"datum":0,"type":"quantitative","axis":{"orient":"right","title":null,"labels":false,"values":[0,5,10,15,20,25,30,35,40,45]}},"y2":{"datum":45}}},
  {"mark":{"type":"line","color":"#a878e8"},"encoding":{
   "x":{"field":"t","type":"temporal","axis":{"title":null,"labels":false,"grid":true,"gridDash":[1,2],"gridColor":"#444","zindex":1,"values":[{"year":2020,"month":1,"date":8},{"year":2020,"month":1,"date":15,"hours":12},{"year":2020,"month":1,"date":23,"hours":3},{"year":2020,"month":1,"date":30,"hours":15},{"year":2020,"month":2,"date":8},{"year":2020,"month":2,"date":15,"hours":10},{"year":2020,"month":2,"date":22,"hours":20},{"year":2020,"month":3,"date":1,"hours":12},{"year":2020,"month":3,"date":8},{"year":2020,"month":3,"date":15,"hours":10},{"year":2020,"month":3,"date":22,"hours":20}]}},
   "y":{"field":"ft","type":"quantitative","scale":{"domain":[0,45]},"axis":{"title":null,"labelExpr":"datum.value % 20 == 0 ? datum.label : ''","values":[0,5,10,15,20,25,30,35,40,45]}},"detail":{"field":"s","type":"nominal"}}}
 ]},
{"width":58,"height":68,"data":{"name":"box"},"transform":[{"filter":"datum.f=='ft'"}],"resolve":{"axis":{"y":"independent"}},
 "encoding":{"x":{"field":"g","type":"nominal","sort":["Pre","L1","L2"],"scale":{"paddingInner":0,"paddingOuter":0},"axis":{"title":null,"labels":false,"ticks":false}}},
 "layer":[
  {"transform":[{"filter":"datum.g!='Pre'"}],"mark":{"type":"rule","strokeDash":[1,2],"color":"#555","strokeWidth":0.8},"encoding":{"x":{"field":"g","type":"nominal","sort":["Pre","L1","L2"],"bandPosition":0}}},
  {"mark":{"type":"rule","color":"#9a4dee","strokeWidth":1.5},"encoding":{"y":{"field":"lo","type":"quantitative","scale":{"domain":[0,24]},"axis":{"title":null,"labelExpr":"datum.value % 10 == 0 ? datum.label : ''","values":[0,5,10,15,20]}},"y2":{"field":"hi"}}},
  {"mark":{"type":"bar","fill":"white","stroke":"#9a4dee","strokeWidth":1.5,"size":14},"encoding":{"y":{"field":"q1","type":"quantitative","axis":{"orient":"right","title":null,"labels":false,"values":[0,5,10,15,20]}},"y2":{"field":"q3"}}},
  {"mark":{"type":"tick","color":"#9a4dee","size":14,"thickness":1.5},"encoding":{"y":{"field":"md","type":"quantitative","axis":null}}},
  {"mark":{"type":"tick","color":"#9a4dee","size":9,"thickness":1.5},"encoding":{"y":{"field":"lo","type":"quantitative","axis":null}}},
  {"mark":{"type":"tick","color":"#9a4dee","size":9,"thickness":1.5},"encoding":{"y":{"field":"hi","type":"quantitative","axis":null}}}
 ]},
{"width":232,"height":68,"resolve":{"axis":{"x":"independent","y":"independent"}},
 "layer":[
  {"data":{"name":"prof"},"transform":[{"filter":"datum.f=='ft'"}],"mark":{"type":"bar","orient":"vertical","color":"#9955ee","size":1.8},
   "encoding":{"x":{"field":"mz","type":"quantitative","scale":{"domain":[25,130]},"axis":{"title":null,"labels":false,"grid":true,"gridDash":[1,2],"gridColor":"#888","values":[25,30,35,40,45,50,55,60,65,70,75,80,85,90,95,100,105,110,115,120,125,130]}},
    "y":{"field":"v","type":"quantitative","scale":{"domain":[0,0.15]},"axis":{"title":null,"format":".2f","labelExpr":"round(datum.value*1000) % 50 == 0 ? datum.label : ''","values":[0,0.025,0.05,0.075,0.1,0.125,0.15]}}}},
  {"data":{"values":[{"lab":"Fresh Traffic"}]},"mark":{"type":"text","align":"left","baseline":"top","lineBreak":"\n","lineHeight":15},"encoding":{
   "x":{"datum":84.5,"type":"quantitative","axis":{"orient":"top","title":null,"labels":false,"values":[25,30,35,40,45,50,55,60,65,70,75,80,85,90,95,100,105,110,115,120,125,130]}},
   "y":{"datum":0.141,"type":"quantitative","axis":{"orient":"right","title":null,"labels":false,"values":[0,0.025,0.05,0.075,0.1,0.125,0.15]}},"text":{"field":"lab","type":"nominal"}}}
 ]},

{"width":241,"height":68,"data":{"name":"ts"},"resolve":{"axis":{"x":"independent","y":"independent"}},
 "layer":[
  {"data":{"name":"lv"},"mark":{"type":"rect","color":"#d3d3d3"},"encoding":{
   "x":{"field":"t","type":"temporal","scale":{"domain":[{"year":2020,"month":1,"date":8},{"year":2020,"month":3,"date":27,"hours":12}]},"axis":{"orient":"top","title":null,"labels":false,"values":[{"year":2020,"month":1,"date":8},{"year":2020,"month":1,"date":15,"hours":12},{"year":2020,"month":1,"date":23,"hours":3},{"year":2020,"month":1,"date":30,"hours":15},{"year":2020,"month":2,"date":8},{"year":2020,"month":2,"date":15,"hours":10},{"year":2020,"month":2,"date":22,"hours":20},{"year":2020,"month":3,"date":1,"hours":12},{"year":2020,"month":3,"date":8},{"year":2020,"month":3,"date":15,"hours":10},{"year":2020,"month":3,"date":22,"hours":20}]}},
   "x2":{"field":"t2"},
   "y":{"datum":0,"type":"quantitative","axis":{"orient":"right","title":null,"labels":false,"values":[0,5,10,15,20,25,30,35,40,45,50]}},"y2":{"datum":50}}},
  {"mark":{"type":"line","color":"#ff0000"},"encoding":{
   "x":{"field":"t","type":"temporal","axis":{"title":null,"labels":false,"grid":true,"gridDash":[1,2],"gridColor":"#444","zindex":1,"values":[{"year":2020,"month":1,"date":8},{"year":2020,"month":1,"date":15,"hours":12},{"year":2020,"month":1,"date":23,"hours":3},{"year":2020,"month":1,"date":30,"hours":15},{"year":2020,"month":2,"date":8},{"year":2020,"month":2,"date":15,"hours":10},{"year":2020,"month":2,"date":22,"hours":20},{"year":2020,"month":3,"date":1,"hours":12},{"year":2020,"month":3,"date":8},{"year":2020,"month":3,"date":15,"hours":10},{"year":2020,"month":3,"date":22,"hours":20}]}},
   "y":{"field":"at","type":"quantitative","scale":{"domain":[0,50]},"axis":{"title":null,"labelExpr":"datum.value % 20 == 0 ? datum.label : ''","values":[0,5,10,15,20,25,30,35,40,45,50]}},"detail":{"field":"s","type":"nominal"}}}
 ]},
{"width":58,"height":68,"data":{"name":"box"},"transform":[{"filter":"datum.f=='at'"}],"resolve":{"axis":{"y":"independent"}},
 "encoding":{"x":{"field":"g","type":"nominal","sort":["Pre","L1","L2"],"scale":{"paddingInner":0,"paddingOuter":0},"axis":{"title":null,"labels":false,"ticks":false}}},
 "layer":[
  {"transform":[{"filter":"datum.g!='Pre'"}],"mark":{"type":"rule","strokeDash":[1,2],"color":"#555","strokeWidth":0.8},"encoding":{"x":{"field":"g","type":"nominal","sort":["Pre","L1","L2"],"bandPosition":0}}},
  {"mark":{"type":"rule","color":"#ff0000","strokeWidth":1.5},"encoding":{"y":{"field":"lo","type":"quantitative","scale":{"domain":[0,21]},"axis":{"title":null,"labelExpr":"datum.value % 10 == 0 ? datum.label : ''","values":[0,5,10,15,20]}},"y2":{"field":"hi"}}},
  {"mark":{"type":"bar","fill":"white","stroke":"#ff0000","strokeWidth":1.5,"size":14},"encoding":{"y":{"field":"q1","type":"quantitative","axis":{"orient":"right","title":null,"labels":false,"values":[0,5,10,15,20]}},"y2":{"field":"q3"}}},
  {"mark":{"type":"tick","color":"#ff0000","size":14,"thickness":1.5},"encoding":{"y":{"field":"md","type":"quantitative","axis":null}}},
  {"mark":{"type":"tick","color":"#ff0000","size":9,"thickness":1.5},"encoding":{"y":{"field":"lo","type":"quantitative","axis":null}}},
  {"mark":{"type":"tick","color":"#ff0000","size":9,"thickness":1.5},"encoding":{"y":{"field":"hi","type":"quantitative","axis":null}}}
 ]},
{"width":232,"height":68,"resolve":{"axis":{"x":"independent","y":"independent"}},
 "layer":[
  {"data":{"name":"prof"},"transform":[{"filter":"datum.f=='at'"}],"mark":{"type":"bar","orient":"vertical","color":"#ff1a1a","size":1.8},
   "encoding":{"x":{"field":"mz","type":"quantitative","scale":{"domain":[25,130]},"axis":{"title":null,"labels":false,"grid":true,"gridDash":[1,2],"gridColor":"#888","values":[25,30,35,40,45,50,55,60,65,70,75,80,85,90,95,100,105,110,115,120,125,130]}},
    "y":{"field":"v","type":"quantitative","scale":{"domain":[0,0.2]},"axis":{"title":null,"format":".2f","labelExpr":"round(datum.value*1000) % 50 == 0 ? datum.label : ''","values":[0,0.025,0.05,0.075,0.1,0.125,0.15,0.175,0.2]}}}},
  {"data":{"values":[{"lab":"Aged Traffic"}]},"mark":{"type":"text","align":"left","baseline":"top","lineBreak":"\n","lineHeight":15},"encoding":{
   "x":{"datum":84.5,"type":"quantitative","axis":{"orient":"top","title":null,"labels":false,"values":[25,30,35,40,45,50,55,60,65,70,75,80,85,90,95,100,105,110,115,120,125,130]}},
   "y":{"datum":0.188,"type":"quantitative","axis":{"orient":"right","title":null,"labels":false,"values":[0,0.025,0.05,0.075,0.1,0.125,0.15,0.175,0.2]}},"text":{"field":"lab","type":"nominal"}}}
 ]},

{"width":241,"height":74,"data":{"name":"ts"},"resolve":{"axis":{"x":"independent","y":"independent"}},
 "layer":[
  {"data":{"name":"lv"},"mark":{"type":"rect","color":"#d3d3d3"},"encoding":{
   "x":{"field":"t","type":"temporal","scale":{"domain":[{"year":2020,"month":1,"date":8},{"year":2020,"month":3,"date":27,"hours":12}]},"axis":{"orient":"top","title":null,"labels":false,"values":[{"year":2020,"month":1,"date":8},{"year":2020,"month":1,"date":15,"hours":12},{"year":2020,"month":1,"date":23,"hours":3},{"year":2020,"month":1,"date":30,"hours":15},{"year":2020,"month":2,"date":8},{"year":2020,"month":2,"date":15,"hours":10},{"year":2020,"month":2,"date":22,"hours":20},{"year":2020,"month":3,"date":1,"hours":12},{"year":2020,"month":3,"date":8},{"year":2020,"month":3,"date":15,"hours":10},{"year":2020,"month":3,"date":22,"hours":20}]}},
   "x2":{"field":"t2"},
   "y":{"datum":0,"type":"quantitative","axis":{"orient":"right","title":null,"labels":false,"values":[0,5,10,15,20,25,30,35,40,45,50,55,60,65]}},"y2":{"datum":65}}},
  {"mark":{"type":"line","color":"#0a14ff"},"encoding":{
   "x":{"field":"t","type":"temporal","axis":{"title":"Factor Time Series: Date and Time (CST)","labelExpr":"date(datum.value) == 8 ? timeFormat(datum.value, '%-m/%-d/%Y') : ''","labelPadding":4,"titlePadding":6,"grid":true,"gridDash":[1,2],"gridColor":"#444","zindex":1,"values":[{"year":2020,"month":1,"date":8},{"year":2020,"month":1,"date":15,"hours":12},{"year":2020,"month":1,"date":23,"hours":3},{"year":2020,"month":1,"date":30,"hours":15},{"year":2020,"month":2,"date":8},{"year":2020,"month":2,"date":15,"hours":10},{"year":2020,"month":2,"date":22,"hours":20},{"year":2020,"month":3,"date":1,"hours":12},{"year":2020,"month":3,"date":8},{"year":2020,"month":3,"date":15,"hours":10},{"year":2020,"month":3,"date":22,"hours":20}]}},
   "y":{"field":"bg","type":"quantitative","scale":{"domain":[0,65]},"axis":{"title":null,"labelExpr":"datum.value % 20 == 0 ? datum.label : ''","values":[0,5,10,15,20,25,30,35,40,45,50,55,60,65]}},"detail":{"field":"s","type":"nominal"}}}
 ]},
{"width":58,"height":74,"data":{"name":"box"},"transform":[{"filter":"datum.f=='bg'"}],"resolve":{"axis":{"y":"independent"}},
 "encoding":{"x":{"field":"g","type":"nominal","sort":["Pre","L1","L2"],"scale":{"paddingInner":0,"paddingOuter":0},"axis":{"title":"Summary Statistics","labelAngle":270,"ticks":false,"labelPadding":4,"titlePadding":8}}},
 "layer":[
  {"transform":[{"filter":"datum.g!='Pre'"}],"mark":{"type":"rule","strokeDash":[1,2],"color":"#555","strokeWidth":0.8},"encoding":{"x":{"field":"g","type":"nominal","sort":["Pre","L1","L2"],"bandPosition":0}}},
  {"mark":{"type":"rule","color":"#1a1aee","strokeWidth":1.5},"encoding":{"y":{"field":"lo","type":"quantitative","scale":{"domain":[0,31]},"axis":{"title":null,"labelExpr":"datum.value % 10 == 0 ? datum.label : ''","values":[0,5,10,15,20,25,30]}},"y2":{"field":"hi"}}},
  {"mark":{"type":"bar","fill":"white","stroke":"#1a1aee","strokeWidth":1.5,"size":14},"encoding":{"y":{"field":"q1","type":"quantitative","axis":{"orient":"right","title":null,"labels":false,"values":[0,5,10,15,20,25,30]}},"y2":{"field":"q3"}}},
  {"mark":{"type":"tick","color":"#1a1aee","size":14,"thickness":1.5},"encoding":{"y":{"field":"md","type":"quantitative","axis":null}}},
  {"mark":{"type":"tick","color":"#1a1aee","size":9,"thickness":1.5},"encoding":{"y":{"field":"lo","type":"quantitative","axis":null}}},
  {"mark":{"type":"tick","color":"#1a1aee","size":9,"thickness":1.5},"encoding":{"y":{"field":"hi","type":"quantitative","axis":null}}}
 ]},
{"width":232,"height":74,"resolve":{"axis":{"x":"independent","y":"independent"}},
 "layer":[
  {"data":{"name":"prof"},"transform":[{"filter":"datum.f=='bg'"}],"mark":{"type":"bar","orient":"vertical","color":"#2a4fd8","size":1.8},
   "encoding":{"x":{"field":"mz","type":"quantitative","scale":{"domain":[25,130]},"axis":{"title":"Factor Profiles: m/Q (Th)","labelExpr":"datum.value % 20 == 10 ? datum.label : ''","labelPadding":4,"titlePadding":6,"grid":true,"gridDash":[1,2],"gridColor":"#888","values":[25,30,35,40,45,50,55,60,65,70,75,80,85,90,95,100,105,110,115,120,125,130]}},
    "y":{"field":"v","type":"quantitative","scale":{"domain":[0,0.18]},"axis":{"title":null,"format":".2f","labelExpr":"round(datum.value*1000) % 40 == 0 ? datum.label : ''","values":[0,0.02,0.04,0.06,0.08,0.1,0.12,0.14,0.16,0.18]}}}},
  {"data":{"values":[{"lab":"Atmospheric\nBackground"}]},"mark":{"type":"text","align":"left","baseline":"top","lineBreak":"\n","lineHeight":15},"encoding":{
   "x":{"datum":84.5,"type":"quantitative","axis":{"orient":"top","title":null,"labels":false,"values":[25,30,35,40,45,50,55,60,65,70,75,80,85,90,95,100,105,110,115,120,125,130]}},
   "y":{"datum":0.173,"type":"quantitative","axis":{"orient":"right","title":null,"labels":false,"values":[0,0.02,0.04,0.06,0.08,0.1,0.12,0.14,0.16,0.18]}},"text":{"field":"lab","type":"nominal"}}}
 ]}
]
}
